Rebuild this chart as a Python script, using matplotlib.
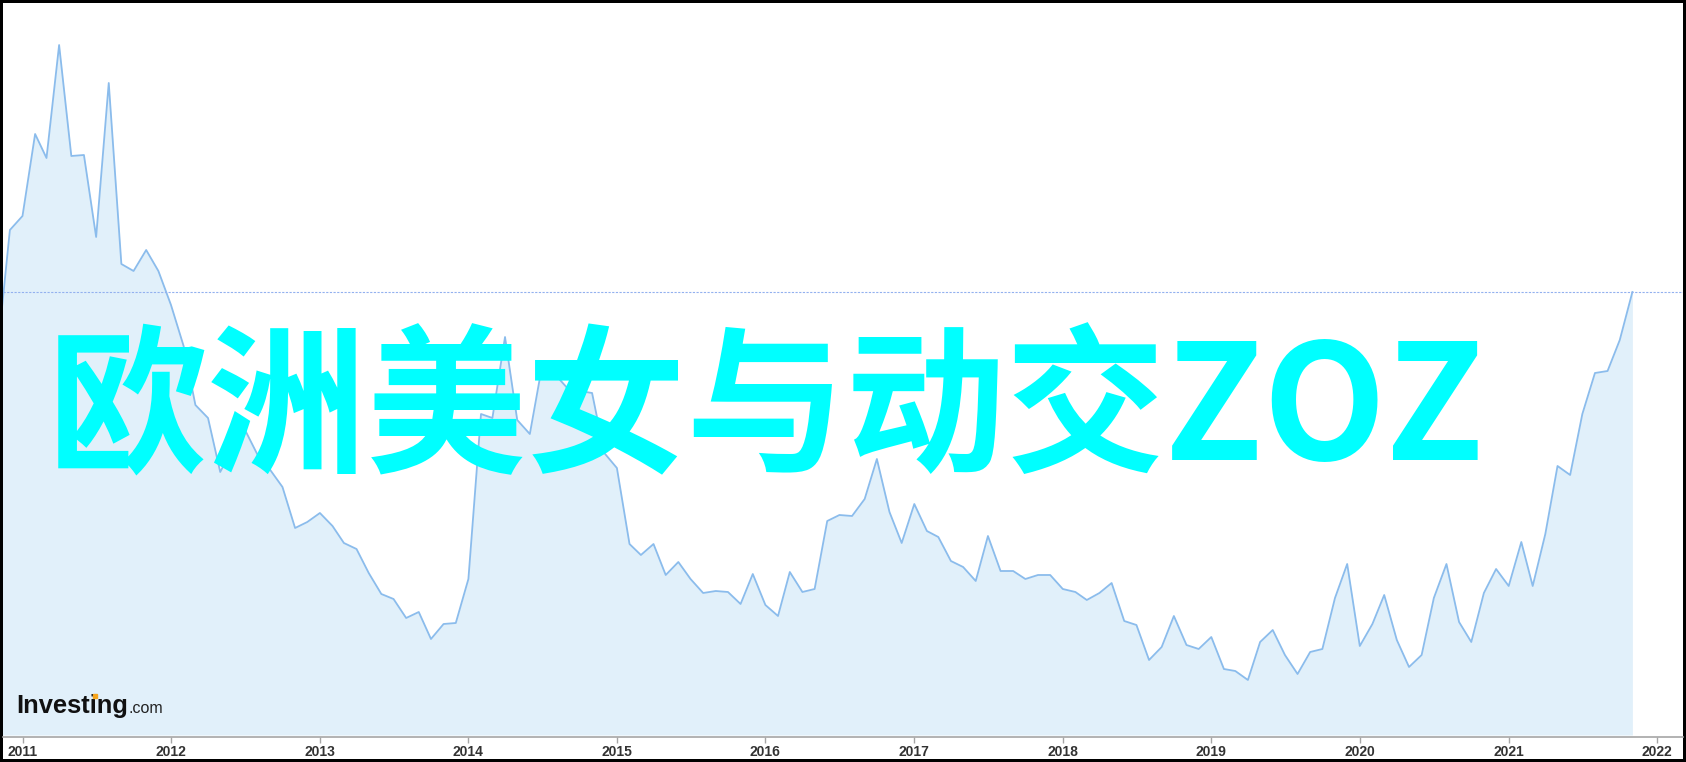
import matplotlib
matplotlib.use('Agg')
import matplotlib.pyplot as plt
import matplotlib.dates as mdates
import pandas as pd
from matplotlib.patches import Rectangle

# monthly closes, Nov 2010 .. Nov 2021 (arbitrary units)
start_month = '2010-11-01'
values = [
    38.5, 50.5, 51.9, 60.1, 57.7, 69.0, 57.9, 58.0, 49.8, 65.2, 47.1, 46.4, 48.5,
    46.4, 43.0, 38.9, 33.0, 31.7, 26.3, 28.7, 30.5, 28.0, 26.5, 24.8, 20.7, 21.3,
    22.2, 20.9, 19.2, 18.6, 16.2, 14.1, 13.6, 11.7, 12.3, 9.6, 11.1, 11.2, 15.6,
    32.1, 31.7, 39.8, 31.5, 30.1, 36.9, 36.1, 34.7, 34.4, 34.2, 28.2, 26.7, 19.1,
    18.0, 19.1, 16.0, 17.3, 15.6, 14.2, 14.4, 14.3, 13.1, 16.1, 13.0, 11.9, 16.3,
    14.3, 14.6, 21.4, 22.0, 21.9, 23.6, 27.6, 22.3, 19.2, 23.1, 20.4, 19.8, 17.4,
    16.8, 15.4, 19.9, 16.4, 16.4, 15.6, 16.0, 16.0, 14.6, 14.3, 13.5, 14.2, 15.2,
    11.4, 11.0, 7.5, 8.8, 11.9, 9.0, 8.6, 9.8, 6.6, 6.4, 5.5, 9.3, 10.5, 8.0,
    6.1, 8.3, 8.6, 13.7, 17.1, 8.9, 11.1, 14.0, 9.5, 6.8, 8.0, 13.7, 17.1, 11.3,
    9.3, 14.2, 16.6, 14.9, 19.3, 14.9, 20.1, 26.9, 26.0, 32.1, 36.2, 36.4, 39.5,
    44.3,
]
years = list(range(2011, 2023))
overlay_text = '欧洲美女与动交ZOZ'

dates = pd.date_range(start_month, periods=len(values), freq='MS')

W, H = 1686, 762
fig = plt.figure(figsize=(W / 100, H / 100), dpi=100)
fig.patch.set_facecolor('black')
fig.add_artist(Rectangle((3 / W, 3 / H), (W - 6) / W, (H - 6) / H,
                         transform=fig.transFigure, facecolor='white',
                         edgecolor='none', zorder=0))

ax = fig.add_axes([3 / W, (H - 737) / H, 1680 / W, 734 / H])
ax.set_facecolor('white')

ax.fill_between(dates, values, 0, color='#e1f0fa', lw=0, zorder=1)
ax.plot(dates, values, color='#8bbcec', lw=1.3, zorder=2)
ax.axhline(values[-1], color='#93b1ef', lw=0.8, ls=(0, (2, 1.3)), zorder=3)

# x range: 2011-01-01 sits 19.5 px from the left edge, 148.6 px per year
px_per_day = 148.6 / 365.25
x0 = mdates.date2num(pd.Timestamp('2011-01-01')) - 19.5 / px_per_day
ax.set_xlim(x0, x0 + 1680 / px_per_day)
ax.set_ylim(-0.2, 73.2)

for s in ['left', 'right', 'top']:
    ax.spines[s].set_visible(False)
ax.spines['bottom'].set_color('#a6a6a6')
ax.spines['bottom'].set_linewidth(1.2)

ax.set_xticks([pd.Timestamp(f'{y}-01-01') for y in years])
ax.set_xticklabels([str(y) for y in years], fontfamily='Liberation Sans',
                   fontweight='bold')
ax.tick_params(axis='x', length=4, width=1, color='#a6a6a6', pad=2,
               labelsize=10, labelcolor='#333333')
ax.set_yticks([])

# watermark logo
fig.text(16 / W, 1 - 713 / H, 'Investing', fontsize=18.4, fontweight='bold',
         fontfamily='Liberation Sans', color='#111111', va='baseline', zorder=5)
fig.text(128 / W, 1 - 713 / H, '.com', fontsize=11.5,
         fontfamily='Liberation Sans', color='#222222', va='baseline', zorder=5)
fig.lines.append(plt.Line2D([95 / W], [1 - 696 / H], marker='s', markersize=3.5,
                            color='#f5a41c', transform=fig.transFigure, zorder=6))

fig.text(48 / W, 1 - 461 / H, overlay_text, fontsize=115, color='#00ffff',
         fontfamily=['Noto Sans CJK SC', 'DejaVu Sans'], fontweight='bold',
         va='baseline', ha='left', zorder=10)

fig.savefig('out.png', dpi=100, facecolor=fig.get_facecolor())
